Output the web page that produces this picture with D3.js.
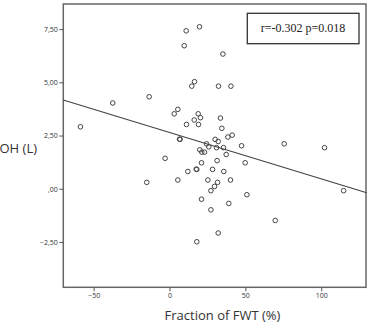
<!DOCTYPE html>
<html>
<head>
<meta charset="utf-8">
<script src="https://cdn.jsdelivr.net/npm/d3@7"></script>
<style>
  body { margin: 0; background: #fff; }
  svg { display: block; }
  .tick text { font-family: "Open Sans", sans-serif; font-size: 7px; fill: #333; }
  .tick line { stroke: #555; }
</style>
</head>
<body>
<svg width="367" height="325"></svg>
<script>
// **** Data ****
var fwt = [19.8, 11.0, 9.7, 35.2, 16.5, 14.7, 32.3, 40.5, -13.4, -37.4,
    5.5, 3.1, 18.9, 20.4, 33.6, 16.3, 11.2, 19.1, -58.7, 34.5,
    41.3, 38.5, 6.6, 7.0, 30.1, 32.1, 24.4, 75.6, 47.5, 25.9,
    31.0, 35.6, 102.2, 20.0, 21.3, 23.1, 37.4, -2.9, 31.4, 21.1,
    49.9, 17.6, 18.0, 28.4, 12.1, 35.8, 5.5, 25.3, 40.2, -15.0,
    31.7, 29.7, 27.3, 114.8, 51.0, 21.1, 39.1, 27.3, 69.7, 32.1, 18.0];
var oh = [7.61, 7.42, 6.72, 6.33, 5.03, 4.82, 4.82, 4.82, 4.32, 4.03,
    3.73, 3.52, 3.52, 3.34, 3.32, 3.23, 3.02, 3.02, 2.91, 2.84,
    2.52, 2.43, 2.33, 2.32, 2.32, 2.22, 2.11, 2.11, 2.02, 1.97,
    1.93, 1.93, 1.93, 1.83, 1.72, 1.72, 1.61, 1.43, 1.32, 1.22,
    1.22, 0.92, 0.91, 0.91, 0.81, 0.81, 0.41, 0.41, 0.41, 0.30,
    0.30, 0.11, -0.09, -0.09, -0.28, -0.49, -0.69, -0.99, -1.49, -2.08, -2.49];

var xTicks = [-50, 0, 50, 100];
var yTicks = [-2.5, 0, 2.5, 5, 7.5];

// fit line end points (x, y)
var fitX = [-70, 130];
var fitY = [4.17, -0.19];

var statText = "r=-0.302 p=0.018";

// **** Scales and axes ****
var svg = d3.select('svg');

var xScale = d3.scaleLinear().domain([-70, 130]).range([63.3, 366.7]);
var yScale = d3.scaleLinear().domain([-4.63, 8.68]).range([287.3, 4]);

function fmtY(d) {
    if (d === 0) return ",00";
    return d3.format(".2f")(d).replace(".", ",");
}

svg.append('rect')
    .attr('x', 63.3).attr('y', 4)
    .attr('width', 302.7).attr('height', 283.3)
    .attr('fill', '#fff')
    .attr('stroke', '#666')
    .attr('stroke-width', 1.5);

var xAxis = svg.append('g').attr('class', 'x axis')
    .attr('transform', 'translate(0,287.3)')
    .call(d3.axisBottom(xScale).tickValues(xTicks).tickSize(4).tickPadding(2));
xAxis.select('.domain').remove();

var yAxis = svg.append('g').attr('class', 'y axis')
    .attr('transform', 'translate(63.3,0)')
    .call(d3.axisLeft(yScale).tickValues(yTicks).tickFormat(fmtY).tickSize(4).tickPadding(1.5));
yAxis.select('.domain').remove();

// **** Fit line ****
svg.append('line')
    .attr('x1', xScale(fitX[0])).attr('y1', yScale(fitY[0]))
    .attr('x2', xScale(fitX[1])).attr('y2', yScale(fitY[1]))
    .attr('stroke', '#444')
    .attr('stroke-width', 1.2);

// **** Points ****
fwt.forEach(function (v, i) {
    svg.append('circle')
        .attr('cx', xScale(v))
        .attr('cy', yScale(oh[i]))
        .attr('r', 2.3)
        .attr('fill', 'none')
        .attr('stroke', '#444')
        .attr('stroke-width', 1);
});

// **** Stats box ****
svg.append('rect')
    .attr('x', 247.3).attr('y', 13.3)
    .attr('width', 111.7).attr('height', 30.4)
    .attr('fill', '#fff')
    .attr('stroke', '#333')
    .attr('stroke-width', 1.3);

svg.append('text')
    .attr('x', 303).attr('y', 31.5)
    .attr('text-anchor', 'middle')
    .attr('font-family', '"Liberation Serif", serif')
    .attr('font-size', 12)
    .attr('fill', '#222')
    .text(statText);

// **** Axis labels ****
svg.append('text')
    .attr('x', 222.5).attr('y', 319.5)
    .attr('text-anchor', 'middle')
    .attr('font-family', '"Open Sans", sans-serif')
    .attr('font-size', 13)
    .attr('fill', '#333')
    .text("Fraction of FWT (%)");

svg.append('text')
    .attr('x', 37).attr('y', 153)
    .attr('text-anchor', 'end')
    .attr('font-family', '"Open Sans", sans-serif')
    .attr('font-size', 13)
    .attr('fill', '#333')
    .text("OH (L)");
</script>
</body>
</html>
